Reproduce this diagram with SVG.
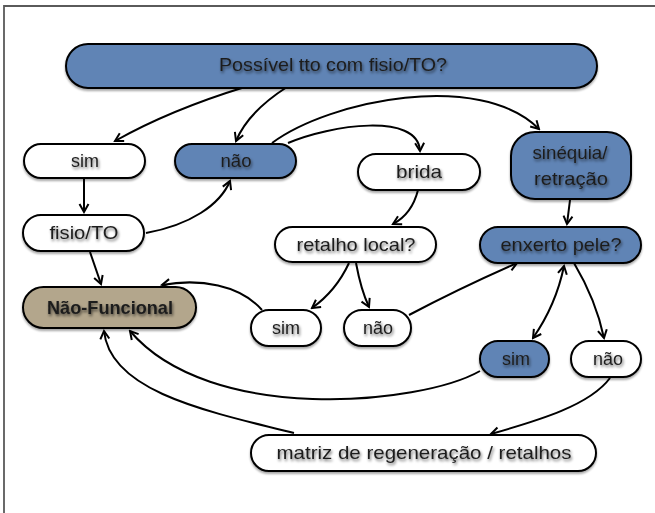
<svg xmlns="http://www.w3.org/2000/svg" width="655" height="513" viewBox="0 0 655 513">
  <defs>
    <filter id="txtShadow" x="-10%" y="-40%" width="120%" height="180%">
      <feGaussianBlur in="SourceAlpha" stdDeviation="1.7" result="b"/>
      <feOffset in="b" dx="1" dy="2" result="o"/>
      <feComponentTransfer in="o" result="s"><feFuncA type="linear" slope="0.6"/></feComponentTransfer>
      <feMerge><feMergeNode in="s"/><feMergeNode in="SourceGraphic"/></feMerge>
    </filter>
    <filter id="boxShadow" x="-5%" y="-20%" width="110%" height="150%">
      <feGaussianBlur in="SourceAlpha" stdDeviation="1.2" result="b"/>
      <feOffset in="b" dx="0" dy="1.5" result="o"/>
      <feComponentTransfer in="o" result="s"><feFuncA type="linear" slope="0.35"/></feComponentTransfer>
      <feMerge><feMergeNode in="s"/><feMergeNode in="SourceGraphic"/></feMerge>
    </filter>
    <marker id="arrow" viewBox="0 0 12 12" refX="10" refY="6" markerWidth="12" markerHeight="12" markerUnits="userSpaceOnUse" orient="auto-start-reverse">
      <path d="M2,1.5 L10,6 L2,10.5" fill="none" stroke="#000" stroke-width="2" stroke-linejoin="miter"/>
    </marker>
  </defs>
  <style>
    .box { stroke: #000; stroke-width: 2; filter: url(#boxShadow); }
    .white { fill: #ffffff; }
    .blue { fill: #6184b5; }
    .tan { fill: #b3a68c; }
    text { font-family: "Liberation Sans", Arial, sans-serif; font-size: 18.5px; fill: #1e1e1e; text-anchor: middle; filter: url(#txtShadow); }
    .bold { font-weight: bold; }
    .conn path { fill: none; stroke: #000; stroke-width: 2; marker-end: url(#arrow); }
  </style>

  <rect width="655" height="513" fill="#ffffff"/>
  <!-- page frame -->
  <path d="M4,513 L4,6 L655,6" fill="none" stroke="#5a5a5a" stroke-width="1.8"/>

  <g id="connectors" class="conn">
    <path d="M245,87 Q170,110 115,141"/>
    <path d="M287,87 Q248,112 236,141"/>
    <path d="M272,143 C330,100 480,70 539,129"/>
    <path d="M288,143 C330,125 418,112 420,151"/>
    <path d="M84,178 L84,212"/>
    <path d="M146,233 C190,225 220,205 230,181"/>
    <path d="M90,252 L101,284"/>
    <path d="M418,190 Q412,214 393,224"/>
    <path d="M349,263 Q336,291 312,308"/>
    <path d="M356,263 Q361,290 369,307"/>
    <path d="M262,310 C240,285 200,278 162,285"/>
    <path d="M409,315 Q460,288 517,263"/>
    <path d="M570,200 L567,224"/>
    <path d="M564,266 Q556,305 533,338" style="marker-start:url(#arrow)"/>
    <path d="M574,263 Q596,300 604,338"/>
    <path d="M480,371 C420,405 210,425 130,331"/>
    <path d="M294,433 C200,410 110,390 104,331"/>
    <path d="M610,378 C590,405 540,420 491,434"/>
  </g>

  <g id="n-top">
    <rect class="box blue" x="66" y="44" width="531" height="44" rx="22"/>
    <text x="333" y="71" textLength="228" lengthAdjust="spacingAndGlyphs">Possível tto com fisio/TO?</text>
  </g>
  <g id="n-sim1">
    <rect class="box white" x="24" y="144" width="121" height="34" rx="17"/>
    <text x="85" y="167" textLength="28" lengthAdjust="spacingAndGlyphs">sim</text>
  </g>
  <g id="n-nao1">
    <rect class="box blue" x="175" y="144" width="121" height="34" rx="17"/>
    <text x="236" y="167" textLength="31" lengthAdjust="spacingAndGlyphs">não</text>
  </g>
  <g id="n-brida">
    <rect class="box white" x="358" y="154" width="122" height="36" rx="18"/>
    <text x="419" y="178" textLength="46" lengthAdjust="spacingAndGlyphs">brida</text>
  </g>
  <g id="n-sinequia">
    <rect class="box blue" x="511" y="132" width="120" height="67" rx="24"/>
    <text x="570" y="159" textLength="75" lengthAdjust="spacingAndGlyphs">sinéquia/</text>
    <text x="571" y="185" textLength="74" lengthAdjust="spacingAndGlyphs">retração</text>
  </g>
  <g id="n-fisio">
    <rect class="box white" x="23" y="215" width="121" height="36" rx="18"/>
    <text x="84" y="239" textLength="69" lengthAdjust="spacingAndGlyphs">fisio/TO</text>
  </g>
  <g id="n-retalho">
    <rect class="box white" x="275" y="227" width="161" height="35" rx="17.5"/>
    <text x="356" y="251" textLength="119" lengthAdjust="spacingAndGlyphs">retalho local?</text>
  </g>
  <g id="n-enxerto">
    <rect class="box blue" x="480" y="227" width="161" height="36" rx="18"/>
    <text x="561" y="251" textLength="121" lengthAdjust="spacingAndGlyphs">enxerto pele?</text>
  </g>
  <g id="n-naofuncional">
    <rect class="box tan" x="23" y="287" width="173" height="41" rx="20.5"/>
    <text class="bold" x="110" y="314" textLength="126" lengthAdjust="spacingAndGlyphs">Não-Funcional</text>
  </g>
  <g id="n-sim2">
    <rect class="box white" x="251" y="310" width="70" height="36" rx="18"/>
    <text x="286" y="334" textLength="28" lengthAdjust="spacingAndGlyphs">sim</text>
  </g>
  <g id="n-nao2">
    <rect class="box white" x="344" y="310" width="67" height="36" rx="18"/>
    <text x="378" y="334" textLength="30" lengthAdjust="spacingAndGlyphs">não</text>
  </g>
  <g id="n-sim3">
    <rect class="box blue" x="480" y="341" width="69" height="36" rx="18"/>
    <text x="516" y="365" textLength="28" lengthAdjust="spacingAndGlyphs">sim</text>
  </g>
  <g id="n-nao3">
    <rect class="box white" x="571" y="341" width="70" height="36" rx="18"/>
    <text x="608" y="365" textLength="30" lengthAdjust="spacingAndGlyphs">não</text>
  </g>
  <g id="n-matriz">
    <rect class="box white" x="251" y="435" width="345" height="36" rx="18"/>
    <text x="424" y="459" textLength="295" lengthAdjust="spacingAndGlyphs">matriz de regeneração / retalhos</text>
  </g>
</svg>
